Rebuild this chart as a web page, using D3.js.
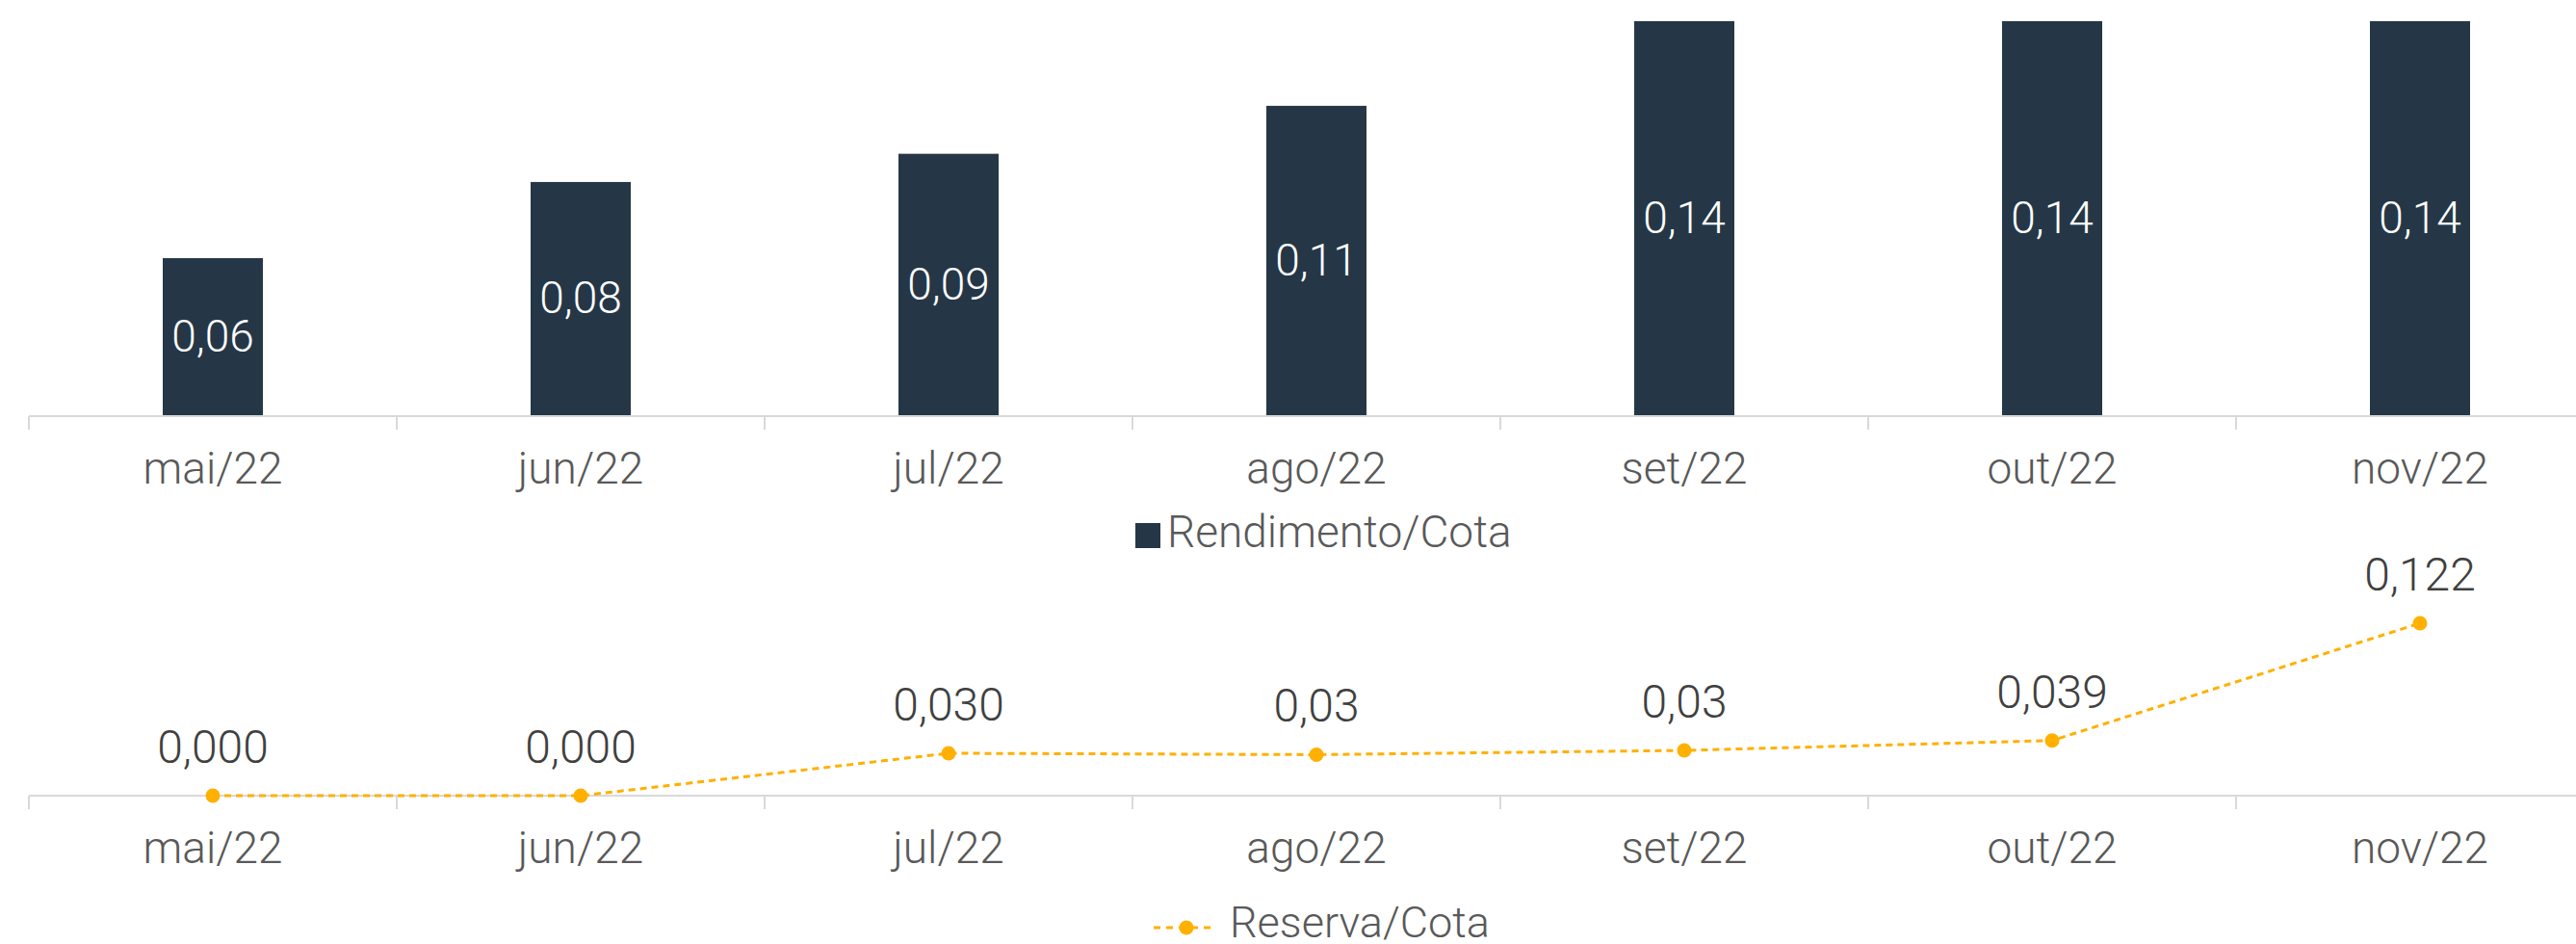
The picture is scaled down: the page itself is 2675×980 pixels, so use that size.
<!DOCTYPE html>
<html>
<head>
<meta charset="utf-8">
<script src="https://cdn.jsdelivr.net/npm/d3@7"></script>
<style>
  html, body { margin: 0; padding: 0; background: #ffffff; }
  svg { display: block; }
  text { font-family: Roboto, "Open Sans", sans-serif; font-weight: 300; }
</style>
</head>
<body>
<svg id="chart" width="2675" height="980"></svg>
<script>
const months = ["mai/22", "jun/22", "jul/22", "ago/22", "set/22", "out/22", "nov/22"];
const rendimento = [0.056, 0.083, 0.093, 0.110, 0.140, 0.140, 0.140];
const rendimentoLabels = ["0,06", "0,08", "0,09", "0,11", "0,14", "0,14", "0,14"];
const reserva = [0.000, 0.000, 0.030, 0.029, 0.032, 0.039, 0.122];
const reservaLabels = ["0,000", "0,000", "0,030", "0,03", "0,03", "0,039", "0,122"];
const legendBar = "Rendimento/Cota";
const legendLine = "Reserva/Cota";

const BAR = "#253746", ORANGE = "#FFB000", AXIS = "#d9d9d9", TXT = "#595959", LBL = "#404040";
const svg = d3.select("#chart");

const x = d3.scaleBand().domain(months).range([30, 30 + 7 * 382]).padding(0);
const bw = 104;

// ---------- Top chart ----------
const y1 = d3.scaleLinear().domain([0, 0.14]).range([432, 22]);
const gTop = svg.append("g");

gTop.selectAll("rect.bar").data(months).join("rect")
  .attr("class", "bar")
  .attr("x", d => x(d) + x.bandwidth() / 2 - bw / 2)
  .attr("width", bw)
  .attr("y", (d, i) => y1(rendimento[i]))
  .attr("height", (d, i) => y1(0) - y1(rendimento[i]))
  .attr("fill", BAR);

gTop.selectAll("text.blab").data(months).join("text")
  .attr("class", "blab")
  .attr("x", d => x(d) + x.bandwidth() / 2)
  .attr("y", (d, i) => (y1(0) + y1(rendimento[i])) / 2)
  .attr("dy", "0.32em")
  .attr("text-anchor", "middle")
  .attr("fill", "#ffffff")
  .attr("font-size", 46)
  .text((d, i) => rendimentoLabels[i]);

function drawAxis(g, yPos) {
  const ax = d3.axisBottom(x).tickSize(0).tickPadding(0);
  const a = g.append("g").attr("transform", `translate(0,${yPos})`).call(ax);
  a.select(".domain").remove();
  a.selectAll(".tick text")
    .attr("font-size", 46)
    .attr("font-family", "Roboto, sans-serif")
    .attr("font-weight", 300)
    .attr("fill", TXT)
    .attr("dy", null)
    .attr("y", 70);
  g.append("line")
    .attr("x1", x.range()[0]).attr("x2", 2675)
    .attr("y1", yPos).attr("y2", yPos)
    .attr("stroke", AXIS).attr("stroke-width", 2);
  const bounds = months.map(m => x(m));
  g.selectAll(null).data(bounds).join("line")
    .attr("x1", d => d).attr("x2", d => d)
    .attr("y1", yPos).attr("y2", yPos + 14)
    .attr("stroke", AXIS).attr("stroke-width", 2);
}
drawAxis(gTop, 432);

// legend 1
const lg1 = svg.append("g").attr("transform", "translate(1179,543)");
lg1.append("rect").attr("width", 26).attr("height", 26).attr("fill", BAR);
lg1.append("text").attr("x", 33).attr("y", 25).attr("font-size", 46)
  .attr("fill", TXT).text(legendBar);

// ---------- Bottom chart ----------
const y2 = d3.scaleLinear().domain([0, 0.122]).range([826, 647]);
const gBot = svg.append("g");
drawAxis(gBot, 826);

const line = d3.line()
  .x((d, i) => x(months[i]) + x.bandwidth() / 2)
  .y(d => y2(d));
gBot.append("path").datum(reserva)
  .attr("d", line)
  .attr("fill", "none")
  .attr("stroke", ORANGE)
  .attr("stroke-width", 3)
  .attr("stroke-dasharray", "7,5");

gBot.selectAll("circle.pt").data(reserva).join("circle")
  .attr("class", "pt")
  .attr("cx", (d, i) => x(months[i]) + x.bandwidth() / 2)
  .attr("cy", d => y2(d))
  .attr("r", 7.5)
  .attr("fill", ORANGE);

gBot.selectAll("text.plab").data(reserva).join("text")
  .attr("class", "plab")
  .attr("x", (d, i) => x(months[i]) + x.bandwidth() / 2)
  .attr("y", d => y2(d) - 34)
  .attr("text-anchor", "middle")
  .attr("font-size", 48)
  .attr("fill", LBL)
  .text((d, i) => reservaLabels[i]);

// legend 2
const lg2 = svg.append("g").attr("transform", "translate(1198,963)");
lg2.append("line").attr("x1", 0).attr("x2", 63).attr("y1", 0).attr("y2", 0)
  .attr("stroke", ORANGE).attr("stroke-width", 3).attr("stroke-dasharray", "7,6");
lg2.append("circle").attr("cx", 34).attr("cy", 0).attr("r", 7.5).attr("fill", ORANGE);
lg2.append("text").attr("x", 79).attr("y", 10).attr("font-size", 45)
  .attr("fill", TXT).text(legendLine);
</script>
</body>
</html>
